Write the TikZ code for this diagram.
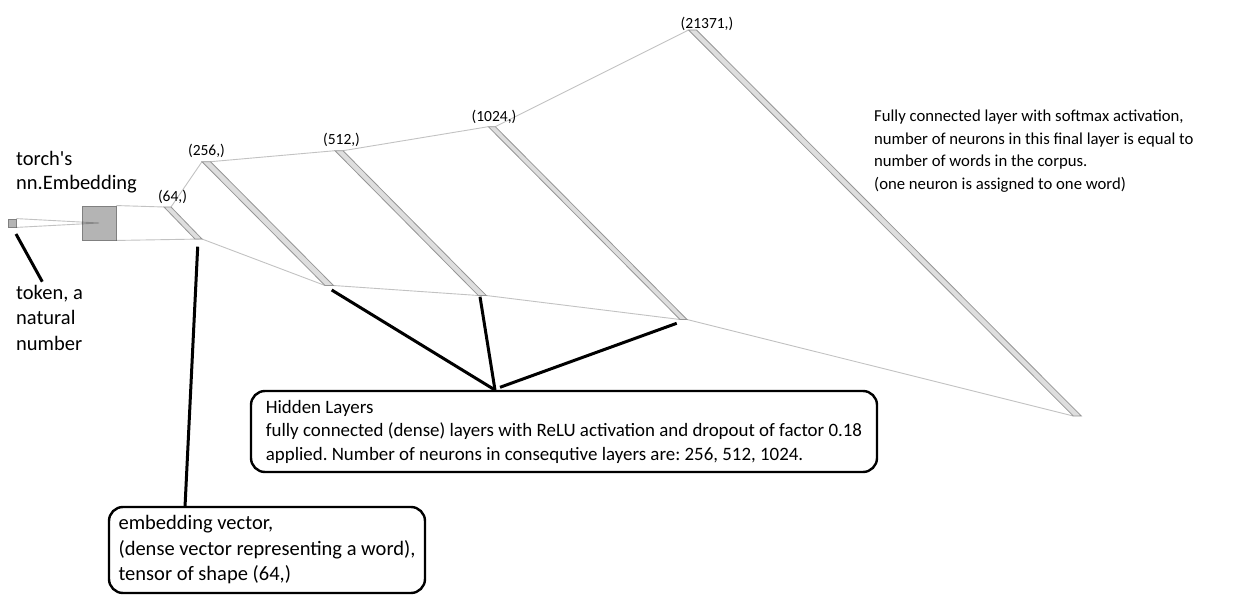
\documentclass[tikz,border=0pt]{standalone}
\usepackage{fontspec}
\setmainfont{Carlito}
\usetikzlibrary{positioning}
\definecolor{barfill}{RGB}{222,222,222}
\definecolor{barline}{RGB}{150,150,150}
\definecolor{embfill}{RGB}{180,180,180}
\definecolor{embline}{RGB}{128,128,128}
\frenchspacing

\begin{document}
\begin{tikzpicture}[
    x=1pt, y=-1pt,
    bar/.style={fill=barfill, draw=barline, line width=0.8pt},
    link/.style={draw=black, draw opacity=0.24, line width=0.9pt},
    pointer/.style={draw=black, line width=3pt},
    note/.style={draw=black, line width=2.4pt, rounded corners=14pt, align=left,
                 inner xsep=7pt, font=\fontsize{20.5}{25.5}\selectfont},
    bigtxt/.style={font=\fontsize{20.5}{25.5}\selectfont, align=left, anchor=north west, inner sep=0pt},
    smalltxt/.style={font=\fontsize{16.7}{22.8}\selectfont, align=left, anchor=north west, inner sep=0pt},
    lbl/.style={font=\fontsize{15.5}{18}\selectfont, inner sep=0pt}
]
    \useasboundingbox (0,0) rectangle (1242,596);

    % Token and embedding
    \node[draw=embline, fill=embfill, line width=0.8pt, minimum size=8pt, inner sep=0pt] (token) at (12,223) {};
    \node[draw=embline, fill=embfill, line width=0.9pt, minimum size=34pt, inner sep=0pt] (emb) at (99,223) {};
    \draw[link] (token.north east) -- (emb.center) -- (token.south east);

    % Layers (top left corner, bottom left corner, width)
    \foreach \n/\tx/\ty/\bx/\by/\w in {L64/164/207/195/239/7, L256/202/161.7/325/285.5/8.5,
        L512/335/150.7/478.3/295.5/8, L1024/488.3/126.7/680/319.5/7, L21371/688.5/30/1073.3/416/8} {
        \coordinate (\n-tl) at (\tx,\ty);
        \coordinate (\n-tr) at (\tx+\w,\ty);
        \coordinate (\n-bl) at (\bx,\by);
        \coordinate (\n-br) at (\bx+\w,\by);
    }
    \draw[link] (emb.north east) -- (L64-tl);
    \draw[link] (emb.south east) -- (L64-br);
    \draw[link] (L64-tr) -- (L256-tl);
    \draw[link] (L64-br) -- (L256-bl);
    \draw[link] (L256-tr) -- (L512-tl);
    \draw[link] (L256-br) -- (L512-bl);
    \draw[link] (L512-tr) -- (L1024-tl);
    \draw[link] (L512-br) -- (L1024-bl);
    \draw[link] (L1024-tr) -- (L21371-tl);
    \draw[link] (L1024-br) -- (L21371-bl);
    \foreach \n in {L64, L256, L512, L1024, L21371}
        \draw[bar] (\n-tl) -- (\n-tr) -- (\n-br) -- (\n-bl) -- cycle;

    % Layer sizes
    \node[lbl] (s64) at (172.5,196.5) {(64,)};
    \node[lbl] (s256) at (206.5,151) {(256,)};
    \node[lbl] (s512) at (341.5,139.5) {(512,)};
    \node[lbl] (s1024) at (494,117) {(1024,)};
    \node[lbl] (s21371) at (707,23.5) {(21371,)};

    % Texts
    \node[bigtxt, font=\fontsize{20.5}{23.5}\selectfont] (embtxt) at (16,151.5) {torch\textquotesingle s\\nn.Embedding};
    \node[bigtxt] (toktxt) at (16,285) {token, a\\natural\\number};
    \node[smalltxt] (outtxt) at (874,109.5) {Fully connected layer with softmax activation,\\
        number of neurons in this final layer is equal to\\number of words in the corpus.\\
        (one neuron is assigned to one word)};

    % Boxes
    \node[note, font=\fontsize{18.9}{23.5}\selectfont, minimum width=626pt, minimum height=81pt] (hidden) at (564,431.5)
        {Hidden Layers\\fully connected (dense) layers with ReLU activation and dropout of factor 0.18\\
         applied. Number of neurons in consequtive layers are: 256, 512, 1024.};
    \node[note, minimum width=316pt, minimum height=86pt] (embvec) at (267,550)
        {embedding vector,\\(dense vector representing a word),\\tensor of shape (64,)};

    % Pointers
    \coordinate (tokptr) at (16,234);
    \coordinate (tokend) at (42.3,281.7);
    \draw[pointer] (tokptr) -- (tokend);
    \coordinate (embptr) at (197.7,246.7);
    \coordinate (embend) at (185,507);
    \draw[pointer] (embptr) -- (embend);
    \coordinate (hidtip) at (495,390);
    \coordinate (hidtip2) at (500,387.3);
    \coordinate (p256) at (331.7,290);
    \coordinate (p512) at (480,296.7);
    \coordinate (p1024) at (676.7,323.3);
    \draw[pointer] (p256) -- (hidtip);
    \draw[pointer] (p512) -- (hidtip);
    \draw[pointer] (p1024) -- (hidtip2);
\end{tikzpicture}
\end{document}
